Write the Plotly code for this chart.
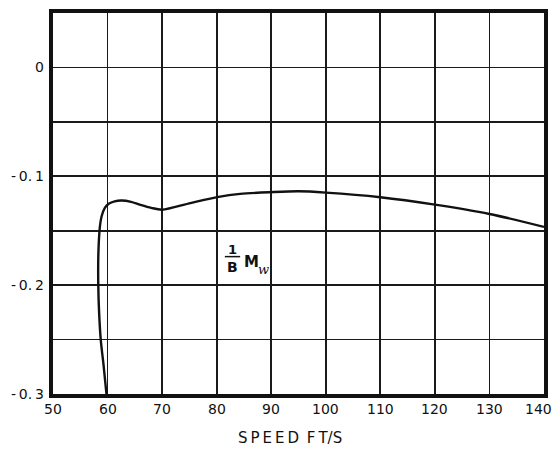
import plotly.graph_objects as go

# Data
speed = [59.8, 59.3, 58.75, 58.45, 58.3, 58.3, 58.4, 58.6, 58.9, 59.5, 60.2, 61.3,
         62.6, 64.3, 66.0, 68.0, 70.0, 75.2, 80.1, 84.3, 90.0, 95.0, 100.0, 110.0,
         120.0, 130.0, 140.0]
mw = [-0.300, -0.275, -0.250, -0.225, -0.200, -0.175, -0.160, -0.146, -0.137, -0.129,
      -0.1253, -0.1230, -0.1223, -0.1235, -0.1262, -0.1290, -0.1307, -0.1246, -0.1192,
      -0.1162, -0.1146, -0.1138, -0.1150, -0.1192, -0.1260, -0.1346, -0.1465]

x_ticks = [50, 60, 70, 80, 90, 100, 110, 120, 130, 140]
x_ticklabels = ["50", "60", "70", "80", "90", "100", "110", "120", "130", "140"]
y_ticks = [0, -0.1, -0.2, -0.3]
y_ticklabels = ["0", "-\u20090.\u20091", "-\u20090.\u20092", "-\u20090.\u20093"]

FONT = "DejaVu Sans"
INK = "#111111"

fig = go.Figure()
fig.add_trace(go.Scatter(x=speed, y=mw, mode="lines",
                         line=dict(color=INK, width=2.4, shape="spline", smoothing=0.8),
                         hoverinfo="skip", showlegend=False))

fig.update_xaxes(range=[50, 140], tickvals=x_ticks, showticklabels=False,
                 showgrid=True, gridcolor="#1a1a1a", gridwidth=1.7,
                 showline=True, linecolor=INK, linewidth=4, mirror=True,
                 ticks="", zeroline=False, automargin=False, fixedrange=True)
fig.update_yaxes(range=[-0.3, 0.05], dtick=0.05, tick0=0,
                 showgrid=True, gridcolor="#1a1a1a", gridwidth=1.7,
                 showline=True, linecolor=INK, linewidth=4, mirror=True,
                 ticks="", zeroline=False, showticklabels=False, automargin=False,
                 fixedrange=True)

# x tick labels
for v, t in zip(x_ticks, x_ticklabels):
    shift = -6 if v == 140 else 0
    fig.add_annotation(x=v, xref="x", y=0, yref="paper", text=t, showarrow=False,
                       yanchor="top", yshift=-5, xshift=shift,
                       font=dict(family=FONT, size=14, color=INK))

# y tick labels (only every 0.1)
for v, t in zip(y_ticks, y_ticklabels):
    fig.add_annotation(x=0, xref="paper", y=v, yref="y", text=t, showarrow=False,
                       xanchor="right", xshift=-7,
                       font=dict(family=FONT, size=14, color=INK))

# axis title
fig.add_annotation(x=0.483, xref="paper", y=-0.1155, yref="paper", yanchor="middle",
                   text="S\u2009P\u2009E\u2009E\u2009D\u2009 F\u2009T/S", showarrow=False,
                   font=dict(family=FONT, size=15, color=INK))

# label 1/B M_w
fig.add_annotation(x=82.85, y=-0.1668, text="<b>1</b>", showarrow=False,
                   font=dict(family=FONT, size=13, color=INK))
fig.add_annotation(x=82.9, y=-0.1836, text="<b>B</b>", showarrow=False,
                   font=dict(family=FONT, size=14, color=INK))
fig.add_shape(type="line", x0=81.5, x1=84.3, y0=-0.1738, y1=-0.1738,
              line=dict(color=INK, width=1.5))
fig.add_annotation(x=86.3, y=-0.1790, text="<b>M</b>", showarrow=False,
                   font=dict(family=FONT, size=15, color=INK))
fig.add_annotation(x=88.6, y=-0.1858, text="<i>w</i>", showarrow=False,
                   font=dict(family="DejaVu Serif", size=13, color=INK))

fig.update_layout(width=555, height=454,
                  margin=dict(l=53, r=11, t=13, b=60, autoexpand=False),
                  paper_bgcolor="white", plot_bgcolor="white", hovermode=False)

fig.write_html("out.html", config={"displayModeBar": False, "staticPlot": True},
               post_script="document.body.style.margin='0';document.body.style.overflow='hidden';")
